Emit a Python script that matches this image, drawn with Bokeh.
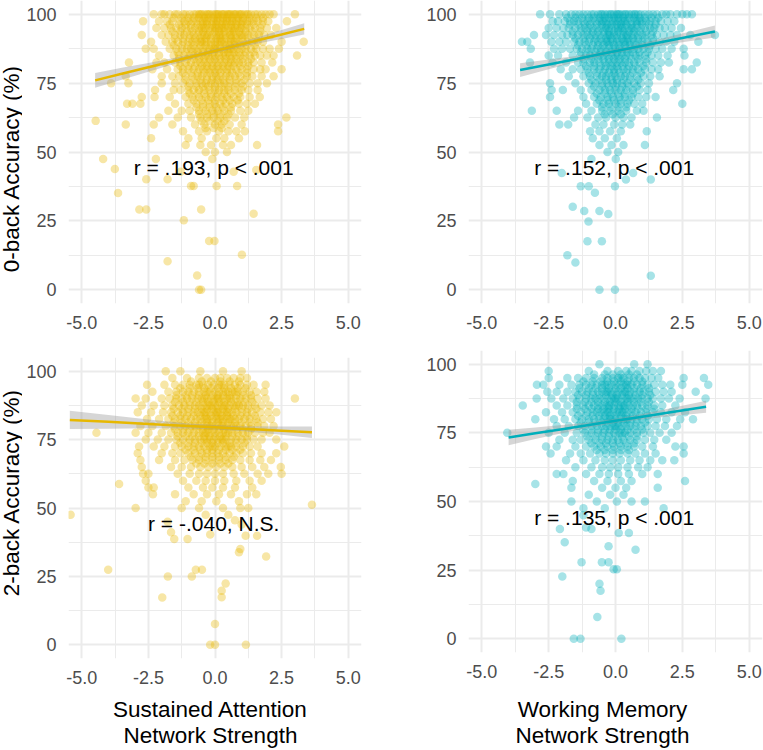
import numpy as np
from bokeh.plotting import figure
from bokeh.layouts import column, row
from bokeh.models import FixedTicker, PrintfTickFormatter, Label
from bokeh.embed import file_html
from bokeh.resources import INLINE

YELLOW = "#E7B800"
TEAL = "#00AFBB"

# ---------------- data ----------------
# accuracy levels (rows) and network-strength values in each row
tl_acc = [100, 97.5, 95, 92.5, 90, 87.5, 85, 82.5, 80, 77.5, 75, 72.5, 70, 67.5,
          65, 62.5, 60, 57.5, 55, 52.5, 50, 47.5]
tl_net = [
    [-2.3, -2.0, -1.9, -1.7, -1.5, -1.4, -1.2, -1.1, -0.95, -0.8, -0.7, -0.6, -0.5, -0.4, -0.3, -0.2, -0.1, 0.0, 0.1, 0.15, 0.25, 0.35, 0.45, 0.5, 0.6, 0.7, 0.8, 0.9, 1.0, 1.1, 1.2, 1.35, 1.5, 1.6, 1.75, 1.9, 2.05, 2.2, 3.0, -0.55, -0.25, 0.05, 0.3, 0.55, 0.75, 0.95, 1.25],
    [-2.7, -2.1, -1.8, -1.6, -1.3, -1.15, -1.0, -0.85, -0.7, -0.55, -0.45, -0.3, -0.15, -0.05, 0.05, 0.2, 0.3, 0.4, 0.55, 0.65, 0.8, 0.9, 1.05, 1.2, 1.3, 1.45, 1.6, 1.8, 2.0, 2.7, -0.35, 0.1, 0.45, 0.7, 1.0],
    [-2.2, -1.9, -1.65, -1.45, -1.25, -1.1, -0.9, -0.75, -0.6, -0.5, -0.35, -0.2, -0.1, 0.0, 0.15, 0.25, 0.35, 0.5, 0.6, 0.75, 0.85, 1.0, 1.15, 1.3, 1.5, 1.7, 1.95, 2.3, -0.4, 0.05, 0.3, 0.65, 0.95],
    [-2.75, -2.0, -1.75, -1.5, -1.3, -1.15, -0.95, -0.8, -0.65, -0.5, -0.4, -0.25, -0.1, 0.05, 0.15, 0.3, 0.4, 0.55, 0.7, 0.8, 0.95, 1.1, 1.25, 1.45, 1.65, 1.85, 2.1, -0.3, 0.2, 0.6, 1.0],
    [-2.4, -1.85, -1.6, -1.4, -1.2, -1.0, -0.85, -0.7, -0.55, -0.4, -0.3, -0.15, 0.0, 0.1, 0.25, 0.35, 0.5, 0.6, 0.75, 0.9, 1.05, 1.2, 1.4, 1.6, 1.8, 2.5, 3.33, -0.5, 0.2, 0.7],
    [-2.6, -2.3, -1.7, -1.45, -1.25, -1.05, -0.9, -0.75, -0.6, -0.45, -0.3, -0.2, -0.05, 0.1, 0.2, 0.35, 0.45, 0.6, 0.7, 0.85, 1.0, 1.15, 1.35, 1.55, 1.8, 2.05, 2.4, 0.0, 0.55],
    [-2.1, -1.55, -1.35, -1.15, -0.95, -0.8, -0.65, -0.5, -0.35, -0.25, -0.1, 0.0, 0.15, 0.3, 0.4, 0.55, 0.65, 0.8, 0.95, 1.1, 1.3, 1.5, 1.7, 1.95, 2.2, 3.08],
    [-3.23, -2.2, -1.9, -1.5, -1.3, -1.1, -0.9, -0.7, -0.55, -0.4, -0.25, -0.1, 0.05, 0.2, 0.35, 0.5, 0.6, 0.75, 0.9, 1.05, 1.25, 1.45, 1.75, 2.15],
    [-2.35, -1.8, -1.4, -1.2, -1.0, -0.8, -0.6, -0.45, -0.3, -0.15, 0.0, 0.15, 0.3, 0.45, 0.6, 0.8, 1.0, 1.2, 1.45, 1.7, 1.9, 2.5],
    [-3.35, -2.0, -1.6, -1.35, -1.1, -0.85, -0.65, -0.5, -0.3, -0.1, 0.05, 0.2, 0.4, 0.55, 0.75, 0.95, 1.2, 1.4, 1.75, 2.2],
    [-3.9, -3.25, -2.0, -1.5, -1.2, -0.95, -0.7, -0.5, -0.35, -0.15, 0.0, 0.2, 0.35, 0.55, 0.8, 1.0, 1.3, 1.6, 1.95],
    [-2.25, -1.55, -1.3, -1.0, -0.8, -0.6, -0.4, -0.2, 0.0, 0.15, 0.35, 0.5, 0.75, 1.0, 1.25, 1.6],
    [-2.75, -2.27, -1.7, -1.1, -0.85, -0.6, -0.35, -0.15, 0.05, 0.25, 0.45, 0.7, 0.95, 1.3, 1.68],
    [-3.3, -3.1, -2.8, -1.5, -1.0, -0.7, -0.45, -0.2, 0.0, 0.2, 0.4, 0.65, 0.9, 1.2, 1.5],
    [-1.75, -1.25, -0.95, -0.6, -0.35, -0.1, 0.1, 0.35, 0.6, 0.95, 1.25],
    [-2.1, -1.4, -0.9, -0.55, -0.3, -0.05, 0.2, 0.45, 0.75, 1.1, 2.68],
    [-3.35, -2.3, -1.6, -0.75, -0.4, 0.0, 0.25, 0.55, 1.0, 2.37],
    [-1.2, -0.6, -0.3, 0.15, 0.5, 0.8, 1.12, 2.37],
    [-2.4, -1.0, -0.5, 0.05, 0.35, 0.9],
    [-1.1, -0.55, -0.15, 0.3, 0.6, 1.58],
    [-0.35, 0.0, 0.45],
    [-4.2, -2.22, -0.1],
]
tl_mid_acc = [98.75, 96.25, 93.75, 91.25, 88.75, 86.25, 83.75, 81.25, 78.75, 76.25,
              73.75, 71.25, 68.75, 66.25, 63.75, 61.25, 58.75]
tl_mid_net = [
    [-1.55, -1.25, -1.0, -0.8, -0.6, -0.4, -0.25, -0.05, 0.1, 0.3, 0.45, 0.65, 0.85, 1.05, 1.3, 1.55, 1.8],
    [-1.7, -1.35, -1.1, -0.9, -0.65, -0.45, -0.3, -0.1, 0.05, 0.25, 0.4, 0.6, 0.8, 1.0, 1.2, 1.45, 1.75],
    [-1.6, -1.3, -1.05, -0.85, -0.6, -0.45, -0.2, 0.0, 0.15, 0.35, 0.55, 0.7, 0.9, 1.15, 1.4, 1.7],
    [-1.5, -1.2, -0.95, -0.75, -0.55, -0.35, -0.15, 0.05, 0.2, 0.4, 0.6, 0.8, 1.0, 1.25, 1.55],
    [-1.55, -1.25, -1.0, -0.8, -0.55, -0.35, -0.15, 0.0, 0.2, 0.4, 0.55, 0.75, 0.95, 1.2, 1.5],
    [-1.4, -1.1, -0.85, -0.65, -0.45, -0.25, -0.05, 0.15, 0.35, 0.5, 0.7, 0.9, 1.15, 1.45],
    [-1.35, -1.05, -0.8, -0.6, -0.4, -0.2, 0.0, 0.2, 0.4, 0.6, 0.8, 1.05, 1.35],
    [-1.3, -1.0, -0.75, -0.5, -0.3, -0.1, 0.1, 0.3, 0.5, 0.7, 0.95, 1.25],
    [-1.2, -0.9, -0.65, -0.4, -0.2, 0.0, 0.2, 0.45, 0.65, 0.9, 1.2],
    [-1.1, -0.8, -0.55, -0.3, -0.1, 0.1, 0.3, 0.55, 0.8, 1.1],
    [-1.0, -0.7, -0.45, -0.25, 0.0, 0.25, 0.5, 0.75, 1.05],
    [-0.95, -0.65, -0.4, -0.15, 0.1, 0.35, 0.6, 0.9],
    [-0.8, -0.5, -0.25, 0.0, 0.3, 0.55, 0.85],
    [-0.7, -0.45, -0.2, 0.05, 0.3, 0.6],
    [-0.6, -0.3, -0.05, 0.2, 0.5],
    [-0.5, -0.2, 0.1, 0.35],
    [-0.35, -0.05, 0.25],
]
tl_out_x = [-4.48, -3.76, -3.64, -2.84, -2.58, -2.58, -1.78, -1.78, -1.17, -0.52, -0.22, -0.02, -0.67, -0.6, -0.52, 0.06, -0.9, -0.8, 0.7, 0.83, 1.01, 1.45, 1.55, -1.29]
tl_out_y = [61.3, 43.8, 35.1, 29.1, 29.1, 40.1, 40.1, 10.3, 25.2, 29.1, 17.7, 17.7, 5.2, 0.0, 0.0, 37.7, 37.7, 37.7, 42.8, 37.7, 12.7, 27.6, 43.5, 42.8]

tr_acc = [100, 97.5, 95, 92.5, 90, 87.5, 85, 82.5, 80, 77.5, 75, 72.5, 70, 67.5,
          65, 62.5, 60, 57.5, 55, 52.5, 50, 47.5]
tr_net = [
    [-2.82, -2.45, -2.1, -1.85, -1.65, -1.5, -1.35, -1.2, -1.05, -0.9, -0.8, -0.65, -0.5, -0.4, -0.3, -0.15, -0.05, 0.05, 0.15, 0.25, 0.35, 0.5, 0.6, 0.7, 0.85, 0.95, 1.1, 1.25, 1.4, 1.55, 1.75, 1.9, 2.05, 2.3, 2.5, 2.67, 2.86, -0.55, -0.2, 0.1, 0.4, 0.75],
    [-2.35, -2.15, -1.9, -1.7, -1.55, -1.4, -1.2, -1.05, -0.9, -0.75, -0.6, -0.45, -0.35, -0.2, -0.1, 0.0, 0.1, 0.2, 0.35, 0.45, 0.6, 0.75, 0.9, 1.0, 1.15, 1.3, 1.5, 1.7, 1.95, 2.2, -0.5, 0.3, 0.8],
    [-2.5, -2.2, -1.95, -1.75, -1.5, -1.3, -1.15, -1.0, -0.85, -0.7, -0.55, -0.4, -0.25, -0.15, 0.0, 0.1, 0.25, 0.35, 0.5, 0.65, 0.8, 0.95, 1.1, 1.3, 1.45, 1.65, 1.85, 2.1, 2.45, -0.35, 0.2, 0.6],
    [-3.05, -2.6, -2.3, -2.0, -1.8, -1.6, -1.4, -1.2, -1.05, -0.9, -0.75, -0.6, -0.45, -0.3, -0.2, -0.05, 0.05, 0.2, 0.3, 0.45, 0.6, 0.7, 0.85, 1.0, 1.15, 1.35, 1.55, 1.8, 2.05, 2.3, 2.8, 3.72, -0.25, 0.4],
    [-3.5, -3.3, -2.4, -2.1, -1.85, -1.55, -1.35, -1.15, -1.0, -0.8, -0.65, -0.5, -0.35, -0.2, -0.1, 0.05, 0.15, 0.3, 0.45, 0.55, 0.7, 0.85, 1.0, 1.2, 1.4, 1.65, 1.9, 2.2, 3.1, -0.3, 0.35],
    [-3.17, -2.3, -2.0, -1.7, -1.45, -1.25, -1.05, -0.9, -0.7, -0.55, -0.4, -0.25, -0.1, 0.0, 0.15, 0.25, 0.4, 0.55, 0.7, 0.85, 1.05, 1.25, 1.5, 1.75, 2.1, 2.55],
    [-2.5, -2.15, -1.6, -1.3, -1.1, -0.95, -0.75, -0.6, -0.45, -0.3, -0.15, 0.0, 0.1, 0.25, 0.4, 0.55, 0.75, 0.9, 1.1, 1.35, 1.6, 1.95, 2.58],
    [-3.2, -2.35, -1.85, -1.4, -1.2, -0.95, -0.8, -0.6, -0.4, -0.25, -0.1, 0.05, 0.2, 0.35, 0.5, 0.7, 0.9, 1.15, 1.4, 1.7, 2.0, 3.04],
    [-2.05, -1.6, -1.3, -1.05, -0.8, -0.6, -0.4, -0.2, -0.05, 0.1, 0.3, 0.45, 0.65, 0.85, 1.1, 1.35, 1.6, 2.55, 2.86],
    [-1.75, -1.2, -0.95, -0.7, -0.5, -0.35, -0.15, 0.0, 0.2, 0.35, 0.55, 0.8, 1.05, 1.3, 1.65],
    [-2.45, -1.5, -1.0, -0.75, -0.5, -0.3, -0.1, 0.05, 0.25, 0.45, 0.7, 0.95, 1.25, 2.3],
    [-2.39, -1.97, -1.3, -0.9, -0.6, -0.4, -0.2, 0.0, 0.2, 0.4, 0.65, 0.9, 1.2, 2.16],
    [-2.45, -1.2, -0.8, -0.55, -0.3, -0.1, 0.15, 0.35, 0.6, 0.85, 1.15, 1.5],
    [-1.1, -0.7, -0.45, -0.25, 0.0, 0.2, 0.45, 0.7, 1.0, 2.5],
    [-3.13, -2.2, -1.4, -0.9, -0.5, -0.2, 0.1, 0.4, 0.8, 1.05],
    [-1.55, -1.05, -0.65, -0.35, 0.0, 0.3, 0.6, 1.55],
    [-2.1, -1.77, -0.75, -0.45, -0.05, 0.25, 0.55],
    [-0.95, -0.6, -0.2, 0.2, 1.17],
    [-0.85, -0.4, 0.05],
    [-0.6, -0.15, 0.3, 1.1],
    [-0.3, 0.1],
    [-0.9, 0.01],
]
tr_mid_acc = [98.75, 96.25, 93.75, 91.25, 88.75, 86.25, 83.75, 81.25, 78.75, 76.25,
              73.75, 71.25, 68.75, 66.25, 63.75]
tr_mid_net = [
    [-1.8, -1.5, -1.25, -1.0, -0.8, -0.6, -0.4, -0.25, -0.05, 0.1, 0.3, 0.5, 0.7, 0.9, 1.1, 1.35, 1.6],
    [-1.7, -1.4, -1.15, -0.95, -0.7, -0.5, -0.3, -0.15, 0.05, 0.2, 0.4, 0.6, 0.8, 1.0, 1.25, 1.5],
    [-1.6, -1.3, -1.05, -0.85, -0.65, -0.45, -0.25, -0.05, 0.1, 0.3, 0.5, 0.7, 0.9, 1.15, 1.4],
    [-1.5, -1.2, -0.95, -0.75, -0.55, -0.35, -0.15, 0.05, 0.25, 0.45, 0.65, 0.85, 1.1, 1.4],
    [-1.4, -1.1, -0.85, -0.65, -0.45, -0.25, -0.05, 0.15, 0.35, 0.55, 0.75, 1.0, 1.3],
    [-1.3, -1.0, -0.75, -0.55, -0.35, -0.15, 0.05, 0.25, 0.45, 0.65, 0.9, 1.2],
    [-1.2, -0.9, -0.65, -0.45, -0.25, -0.05, 0.15, 0.35, 0.6, 0.85, 1.15],
    [-1.1, -0.8, -0.55, -0.35, -0.15, 0.05, 0.25, 0.5, 0.75, 1.05],
    [-1.0, -0.7, -0.45, -0.25, -0.05, 0.15, 0.4, 0.65, 0.95],
    [-0.9, -0.6, -0.35, -0.15, 0.05, 0.3, 0.55, 0.85],
    [-0.8, -0.5, -0.25, 0.0, 0.25, 0.5, 0.8],
    [-0.7, -0.4, -0.15, 0.1, 0.35, 0.65],
    [-0.6, -0.3, -0.05, 0.2, 0.5],
    [-0.5, -0.2, 0.1, 0.4],
    [-0.4, -0.1, 0.2],
]
tr_out_x = [-2.01, -1.6, -1.17, -1.01, -1.05, -0.51, -0.6, -0.27, -1.8, -1.5, -0.6, -0.02, 1.32, -0.77, -1.0, -1.3, -0.02, 0.39, 0.66, 1.32]
tr_out_y = [42.4, 30.1, 28.6, 24.8, 17.6, 17.6, 28.6, 27.5, 12.5, 9.9, 0.0, 0.0, 5.1, 35.2, 37.6, 37.6, 37.6, 40.0, 42.4, 40.0]

bl_acc = [100, 97.5, 95, 92.5, 90, 87.5, 85, 82.5, 80, 77.5, 75, 72.5, 70, 67.5,
          65, 62.5, 60, 57.5, 55, 52.5, 50, 47.5]
bl_net = [
    [-1.85, -1.3, -0.55, 0.3, 1.0],
    [-1.6, -1.05, -0.6, -0.3, 0.0, 0.2, 0.45, 0.7, 0.95, 1.2],
    [-2.55, -1.9, -1.5, -1.2, -0.95, -0.7, -0.45, -0.25, -0.05, 0.15, 0.35, 0.55, 0.75, 0.95, 1.2, 1.45, 1.9, -0.6, 0.25],
    [-2.35, -1.75, -1.45, -1.2, -1.0, -0.8, -0.6, -0.4, -0.2, 0.0, 0.15, 0.3, 0.5, 0.65, 0.85, 1.05, 1.3, 1.55, 1.85, -0.3, 0.4, 0.75],
    [-2.98, -2.6, -2.0, -1.7, -1.45, -1.25, -1.05, -0.85, -0.65, -0.5, -0.3, -0.15, 0.0, 0.15, 0.3, 0.45, 0.6, 0.8, 0.95, 1.15, 1.35, 1.6, 1.9, 3.0, -0.4, 0.1, 0.55],
    [-2.75, -2.3, -1.9, -1.6, -1.35, -1.15, -0.95, -0.75, -0.6, -0.45, -0.3, -0.15, 0.0, 0.1, 0.25, 0.4, 0.55, 0.7, 0.9, 1.05, 1.25, 1.5, 1.75, 2.05, -0.2, 0.35, 0.8],
    [-2.9, -2.4, -1.95, -1.65, -1.4, -1.2, -1.0, -0.8, -0.65, -0.5, -0.35, -0.2, -0.05, 0.1, 0.2, 0.35, 0.5, 0.65, 0.8, 1.0, 1.2, 1.4, 1.7, 2.0, 2.3, -0.4, 0.05, 0.45],
    [-2.55, -2.1, -1.75, -1.5, -1.3, -1.1, -0.9, -0.7, -0.55, -0.4, -0.25, -0.1, 0.05, 0.2, 0.3, 0.45, 0.6, 0.75, 0.9, 1.1, 1.3, 1.55, 1.8, 2.1, -0.3, 0.15, 0.55],
    [-2.8, -2.35, -1.85, -1.55, -1.3, -1.1, -0.9, -0.75, -0.6, -0.45, -0.3, -0.15, 0.0, 0.15, 0.3, 0.45, 0.6, 0.8, 0.95, 1.15, 1.35, 1.6, 1.85, 2.2, -0.2, 0.25, 0.7],
    [-4.45, -2.98, -2.5, -2.0, -1.65, -1.4, -1.2, -1.0, -0.8, -0.6, -0.45, -0.3, -0.15, 0.0, 0.15, 0.3, 0.5, 0.65, 0.85, 1.05, 1.25, 1.5, 1.8, 2.05, -0.35, 0.4],
    [-2.6, -2.15, -1.75, -1.45, -1.2, -0.95, -0.75, -0.55, -0.4, -0.2, -0.05, 0.1, 0.25, 0.4, 0.6, 0.8, 1.0, 1.2, 1.45, 1.75, 2.3, -0.3, 0.3],
    [-2.85, -2.3, -1.9, -1.5, -1.25, -1.0, -0.8, -0.6, -0.4, -0.2, 0.0, 0.2, 0.4, 0.6, 0.8, 1.05, 1.3, 1.6, 2.6, -0.1, 0.5],
    [-2.9, -2.0, -1.6, -1.3, -1.0, -0.75, -0.5, -0.3, -0.1, 0.1, 0.3, 0.55, 0.8, 1.05, 1.35, 1.75, 2.3],
    [-2.8, -2.1, -1.5, -1.15, -0.85, -0.6, -0.35, -0.1, 0.15, 0.4, 0.65, 0.95, 1.3, 1.7, 2.1],
    [-2.75, -1.65, -1.25, -0.9, -0.55, -0.25, 0.05, 0.35, 0.65, 1.0, 1.4, 1.85, 2.47],
    [-2.7, -2.5, -1.4, -0.95, -0.6, -0.3, 0.0, 0.3, 0.7, 1.1, 1.6, 2.0, 2.5],
    [-2.6, -1.2, -0.7, -0.35, 0.0, 0.35, 0.8, 1.3, 1.75],
    [-2.5, -2.3, -1.0, -0.45, -0.1, 0.3, 0.75, 1.4],
    [-2.33, -1.5, -0.8, -0.3, 0.15, 0.6, 1.2, 1.55],
    [-1.1, -0.5, 0.05, 0.9],
    [-2.98, -1.25, -0.6, 0.3, 0.95, 1.25],
    [-5.42, -0.35, 0.5],
]
bl_mid_acc = [96.25, 93.75, 91.25, 88.75, 86.25, 83.75, 81.25, 78.75, 76.25, 73.75,
              71.25, 68.75, 66.25]
bl_mid_net = [
    [-0.9, -0.5, -0.15, 0.2, 0.55, 0.9],
    [-1.3, -0.95, -0.65, -0.4, -0.15, 0.1, 0.35, 0.6, 0.85, 1.15],
    [-1.45, -1.1, -0.85, -0.6, -0.35, -0.1, 0.1, 0.3, 0.55, 0.8, 1.05, 1.35],
    [-1.5, -1.2, -0.95, -0.7, -0.45, -0.25, -0.05, 0.15, 0.35, 0.6, 0.85, 1.1, 1.4],
    [-1.55, -1.25, -1.0, -0.75, -0.5, -0.3, -0.1, 0.1, 0.3, 0.5, 0.75, 1.0, 1.25, 1.55],
    [-1.6, -1.3, -1.05, -0.8, -0.55, -0.35, -0.15, 0.05, 0.25, 0.45, 0.7, 0.95, 1.2, 1.5],
    [-1.55, -1.25, -1.0, -0.75, -0.5, -0.3, -0.1, 0.1, 0.3, 0.5, 0.75, 1.0, 1.3, 1.6],
    [-1.5, -1.2, -0.95, -0.7, -0.45, -0.25, -0.05, 0.15, 0.35, 0.55, 0.8, 1.05, 1.35],
    [-1.4, -1.1, -0.85, -0.6, -0.4, -0.2, 0.0, 0.2, 0.4, 0.65, 0.9, 1.2],
    [-1.3, -1.0, -0.75, -0.5, -0.3, -0.1, 0.1, 0.3, 0.55, 0.8, 1.1],
    [-1.1, -0.8, -0.55, -0.3, -0.1, 0.15, 0.4, 0.65, 0.95],
    [-0.9, -0.6, -0.35, -0.1, 0.15, 0.4, 0.7],
    [-0.7, -0.4, -0.1, 0.2, 0.5],
]
bl_out_x = [-4.01, -3.6, -1.98, -1.77, -1.65, -1.53, -1.03, -0.87, -0.72, -0.49, -0.18, 0.0, -0.18, 0.0, 1.16, 0.25, 0.25, 0.4, 0.9, 0.95, 1.15, 1.58, 1.92, 3.64, -1.78, 0.75, 1.0]
bl_out_y = [27.4, 58.8, 17.3, 25.0, 41.1, 38.7, 38.7, 25.0, 27.4, 27.4, 40.3, 7.6, 0.0, 0.0, 0.0, 17.4, 19.8, 22.4, 33.8, 35.0, 39.9, 39.9, 32.3, 51.2, 45.0, 45.5, 44.0]

br_acc = [100, 97.5, 95, 92.5, 90, 87.5, 85, 82.5, 80, 77.5, 75, 72.5, 70, 67.5,
          65, 62.5, 60, 57.5, 55, 52.5, 50, 47.5]
br_net = [
    [-0.6, 0.7, 1.2],
    [-2.5, -1.0, -0.3, 0.1, 0.4, 0.6, 0.9, 1.15, 1.4, 1.7],
    [-2.5, -1.8, -1.4, -1.1, -0.8, -0.5, -0.3, -0.1, 0.1, 0.3, 0.5, 0.7, 0.9, 1.1, 1.35, 1.6, 2.55, 3.31, 0.2],
    [-2.94, -2.7, -2.1, -1.65, -1.35, -1.1, -0.9, -0.7, -0.5, -0.3, -0.15, 0.0, 0.15, 0.3, 0.45, 0.6, 0.8, 1.0, 1.2, 1.45, 1.75, 2.05, 2.5, 3.47, -0.4, 0.4],
    [-2.55, -2.2, -1.8, -1.5, -1.25, -1.05, -0.85, -0.65, -0.5, -0.35, -0.2, -0.05, 0.1, 0.25, 0.4, 0.55, 0.7, 0.9, 1.05, 1.25, 1.5, 1.8, 2.1, 3.0, -0.3, 0.35],
    [-2.95, -2.4, -1.95, -1.6, -1.35, -1.1, -0.9, -0.75, -0.6, -0.45, -0.3, -0.15, 0.0, 0.1, 0.25, 0.4, 0.55, 0.7, 0.85, 1.0, 1.2, 1.4, 1.7, 2.0, 2.4, 3.37, -0.05, 0.45],
    [-3.47, -2.2, -1.8, -1.45, -1.2, -1.0, -0.8, -0.65, -0.5, -0.35, -0.2, -0.05, 0.1, 0.2, 0.35, 0.5, 0.65, 0.8, 1.0, 1.2, 1.45, 1.75, 2.24, -0.25, 0.3],
    [-2.6, -2.0, -1.6, -1.3, -1.05, -0.85, -0.7, -0.55, -0.4, -0.25, -0.1, 0.05, 0.15, 0.3, 0.45, 0.6, 0.75, 0.95, 1.15, 1.4, 1.7, 2.1, 2.6, -0.3, 0.25],
    [-3.0, -2.3, -1.9, -1.5, -1.25, -1.0, -0.8, -0.6, -0.45, -0.3, -0.15, 0.0, 0.15, 0.3, 0.45, 0.6, 0.8, 1.0, 1.25, 1.55, 1.9, 2.42, 2.9, -0.2, 0.4],
    [-2.2, -1.75, -1.4, -1.15, -0.9, -0.7, -0.5, -0.35, -0.2, -0.05, 0.1, 0.25, 0.4, 0.55, 0.75, 0.95, 1.2, 1.5, 1.85, 2.3, 0.0],
    [-4.05, -2.5, -1.9, -1.45, -1.15, -0.9, -0.65, -0.45, -0.25, -0.05, 0.15, 0.35, 0.55, 0.8, 1.05, 1.3, 1.65, 2.1, 0.25],
    [-2.1, -1.6, -1.3, -1.0, -0.75, -0.5, -0.3, -0.1, 0.1, 0.3, 0.55, 0.8, 1.1, 1.45, 1.9],
    [-2.6, -2.2, -1.5, -1.1, -0.8, -0.55, -0.3, -0.05, 0.2, 0.45, 0.7, 1.0, 1.4, 2.24, 2.55],
    [-2.43, -1.7, -1.3, -0.95, -0.6, -0.35, -0.1, 0.15, 0.45, 0.75, 1.1, 1.5, 2.55],
    [-1.85, -1.2, -0.75, -0.4, -0.1, 0.2, 0.55, 0.9, 1.3, 1.75, 2.2],
    [-1.5, -0.9, -0.5, -0.2, 0.1, 0.45, 0.85, 1.2],
    [-2.2, -1.95, -1.1, -0.6, -0.25, 0.1, 0.5, 1.0, 1.58],
    [-1.6, -0.8, -0.3, 0.2, 0.6, 2.6],
    [-1.65, -0.5, 0.0, 0.4, 1.58],
    [-1.0, -0.2, 0.3],
    [-1.65, -0.7, 0.05, 0.6, 1.1],
    [-1.2, -0.4, 1.8],
]
br_mid_acc = [96.25, 93.75, 91.25, 88.75, 86.25, 83.75, 81.25, 78.75, 76.25, 73.75,
              71.25, 68.75]
br_mid_net = [
    [-0.8, -0.4, -0.1, 0.2, 0.5, 0.8],
    [-1.2, -0.85, -0.55, -0.3, -0.05, 0.2, 0.45, 0.7, 1.0],
    [-1.35, -1.0, -0.75, -0.5, -0.25, 0.0, 0.2, 0.45, 0.7, 0.95, 1.25],
    [-1.4, -1.1, -0.85, -0.6, -0.35, -0.15, 0.05, 0.25, 0.5, 0.75, 1.0, 1.3],
    [-1.45, -1.15, -0.9, -0.65, -0.4, -0.2, 0.0, 0.2, 0.45, 0.7, 0.95, 1.25],
    [-1.45, -1.15, -0.9, -0.65, -0.45, -0.25, -0.05, 0.15, 0.35, 0.6, 0.85, 1.15, 1.45],
    [-1.4, -1.1, -0.85, -0.6, -0.4, -0.2, 0.0, 0.2, 0.4, 0.65, 0.9, 1.2],
    [-1.3, -1.0, -0.75, -0.5, -0.3, -0.1, 0.1, 0.3, 0.55, 0.8, 1.1],
    [-1.2, -0.9, -0.65, -0.4, -0.2, 0.0, 0.2, 0.45, 0.7, 1.0],
    [-1.05, -0.75, -0.5, -0.25, 0.0, 0.25, 0.5, 0.8],
    [-0.9, -0.6, -0.35, -0.1, 0.15, 0.4, 0.7],
    [-0.7, -0.4, -0.1, 0.2, 0.5],
]
br_out_x = [-3.0, -2.08, -1.9, -1.99, -1.27, -1.56, -1.31, -0.68, -0.6, -0.56, -0.51, -0.26, -0.07, 0.05, -0.26, 0.22, 0.12, 0.5, 0.75, -1.1, -0.9, -1.2]
br_out_y = [56.4, 40.0, 35.2, 22.7, 27.9, 0.0, 0.0, 7.9, 20.0, 17.5, 27.9, 27.9, 25.3, 25.3, 33.7, 0.0, 38.5, 38.5, 32.4, 40.5, 40.0, 45.0]

# fitted lines and confidence bands
tl_fit_x = [-4.5, -3.5, -2.5, -1.5, -0.5, 0.5, 1.5, 2.5, 3.35]
tl_fit_y = [76.0, 78.4, 80.75, 83.1, 85.5, 87.9, 90.3, 92.65, 94.7]
tl_lo = [73.3, 76.2, 79.15, 82.0, 84.75, 87.15, 89.2, 91.05, 92.7]
tl_hi = [78.7, 80.6, 82.35, 84.2, 86.25, 88.65, 91.4, 94.25, 96.7]

tr_fit_x = [-3.57, -2.5, -1.5, -0.5, 0.5, 1.5, 2.5, 3.72]
tr_fit_y = [79.75, 81.8, 83.7, 85.64, 87.56, 89.48, 91.4, 93.74]
tr_lo = [77.25, 80.0, 82.55, 84.89, 86.81, 88.33, 89.8, 91.54]
tr_hi = [82.25, 83.6, 84.85, 86.39, 88.31, 90.63, 93.0, 95.94]

bl_fit_x = [-5.45, -4.0, -2.5, -1.0, 0.0, 1.0, 2.5, 3.64]
bl_fit_y = [82.2, 81.48, 80.74, 79.99, 79.5, 79.0, 78.26, 77.7]
bl_lo = [78.9, 78.98, 79.14, 79.09, 78.7, 78.1, 76.76, 75.6]
bl_hi = [85.5, 83.98, 82.34, 80.89, 80.3, 79.9, 79.76, 79.8]

br_fit_x = [-4.0, -3.0, -2.0, -1.0, 0.0, 1.0, 2.0, 3.39]
br_fit_y = [73.3, 74.82, 76.34, 77.86, 79.38, 80.9, 82.42, 84.53]
br_lo = [70.5, 72.72, 74.84, 76.91, 78.63, 79.95, 80.97, 82.33]
br_hi = [76.1, 76.92, 77.84, 78.81, 80.13, 81.85, 83.87, 86.73]

stat_texts = ["r = .193, p < .001", "r = .152, p < .001", "r = -.040, N.S.", "r = .135, p < .001"]
y_titles = ["0-back Accuracy (%)", "2-back Accuracy (%)"]
x_titles = [["Sustained Attention", "Network Strength"], ["Working Memory", "Network Strength"]]
x_ticks = [-5, -2.5, 0, 2.5, 5]
x_minor = [-3.75, -1.25, 1.25, 3.75]
y_ticks = [0, 25, 50, 75, 100]
y_minor = [12.5, 37.5, 62.5, 87.5]

FONT = "Liberation Sans"


def expand(groups, ox, oy):
    xs, ys = [], []
    for levels, rows in groups:
        for lv, r in zip(levels, rows):
            xs.extend(r)
            ys.extend([lv] * len(r))
    xs.extend(ox)
    ys.extend(oy)
    return xs, ys


def panel(width, height, bl, br, bt, bb, color, groups, ox, oy,
          fx, fy, lo, hi, stat):
    p = figure(width=width, height=height, x_range=(-5.5, 5.5), y_range=(-5, 105),
               output_backend="svg", toolbar_location=None,
               min_border_left=bl, min_border_right=br,
               min_border_top=bt, min_border_bottom=bb)
    p.outline_line_color = None
    p.background_fill_color = "white"
    p.border_fill_color = "white"
    p.xaxis.ticker = FixedTicker(ticks=x_ticks, minor_ticks=x_minor)
    p.yaxis.ticker = FixedTicker(ticks=y_ticks, minor_ticks=y_minor)
    p.xaxis.formatter = PrintfTickFormatter(format="%.1f")
    for ax in (p.xaxis, p.yaxis):
        ax.axis_line_color = None
        ax.major_tick_line_color = None
        ax.minor_tick_line_color = None
        ax.major_tick_out = 0
        ax.major_tick_in = 0
        ax.major_label_text_font = FONT
        ax.major_label_text_font_size = "18px"
        ax.major_label_text_color = "#4D4D4D"
        ax.major_label_standoff = 8
    for g in (p.xgrid, p.ygrid):
        g.grid_line_color = "#EBEBEB"
        g.grid_line_width = 2
        g.minor_grid_line_color = "#EBEBEB"
        g.minor_grid_line_width = 1
    xs, ys = expand(groups, ox, oy)
    p.scatter(xs, ys, size=8.5, fill_color=color, fill_alpha=0.35, line_color=None)
    p.varea(x=fx, y1=lo, y2=hi, fill_color="#999999", fill_alpha=0.4)
    p.line(fx, fy, line_color=color, line_width=2.5)
    p.add_layout(Label(x=-0.05, y=44.3, text=stat, text_font=FONT,
                       text_font_size="21px", text_color="black",
                       text_align="center", text_baseline="middle"))
    return p


def strip(width, height, xr, yr):
    s = figure(width=width, height=height, x_range=xr, y_range=yr,
               x_axis_type=None, y_axis_type=None, output_backend="svg",
               toolbar_location=None, min_border_left=0, min_border_right=0,
               min_border_top=0, min_border_bottom=0)
    s.outline_line_color = None
    s.background_fill_color = "white"
    s.border_fill_color = "white"
    return s


def title(s, x, y, text, angle=0.0):
    s.add_layout(Label(x=x, y=y, text=text, text_font=FONT, text_font_size="22.5px",
                       text_color="black", text_align="center",
                       text_baseline="middle", angle=angle))


# page origin is the top-left corner of the window
tl = panel(358, 340, 46, 19, 0, 37, YELLOW,
           [(tl_acc, tl_net), (tl_mid_acc, tl_mid_net)], tl_out_x, tl_out_y,
           tl_fit_x, tl_fit_y, tl_lo, tl_hi, stat_texts[0])
tr = panel(383, 340, 88, 1, 0, 37, TEAL,
           [(tr_acc, tr_net), (tr_mid_acc, tr_mid_net)], tr_out_x, tr_out_y,
           tr_fit_x, tr_fit_y, tr_lo, tr_hi, stat_texts[1])
bl = panel(358, 356, 46, 19, 17, 38, YELLOW,
           [(bl_acc, bl_net), (bl_mid_acc, bl_mid_net)], bl_out_x, bl_out_y,
           bl_fit_x, bl_fit_y, bl_lo, bl_hi, stat_texts[2])
br = panel(383, 356, 88, 1, 10, 44, TEAL,
           [(br_acc, br_net), (br_mid_acc, br_mid_net)], br_out_x, br_out_y,
           br_fit_x, br_fit_y, br_lo, br_hi, stat_texts[3])

# left strip in window-pixel coordinates (x 0..22, y 0..750 downward)
left = strip(22, 750, (0, 22), (750, 0))
title(left, 10.5, 168, y_titles[0], np.pi / 2)
title(left, 10.5, 492, y_titles[1], np.pi / 2)

# bottom strip in window-pixel coordinates (x 22..763, y 696..750 downward)
bottom = strip(741, 54, (22, 763), (750, 696))
title(bottom, 210, 709, x_titles[0][0])
title(bottom, 210, 735, x_titles[0][1])
title(bottom, 602, 708.5, x_titles[1][0])
title(bottom, 602, 734.5, x_titles[1][1])

layout = row(left, column(row(tl, tr), row(column(bl), column(br)), bottom))
open("out.html", "w").write(file_html(layout, INLINE))
